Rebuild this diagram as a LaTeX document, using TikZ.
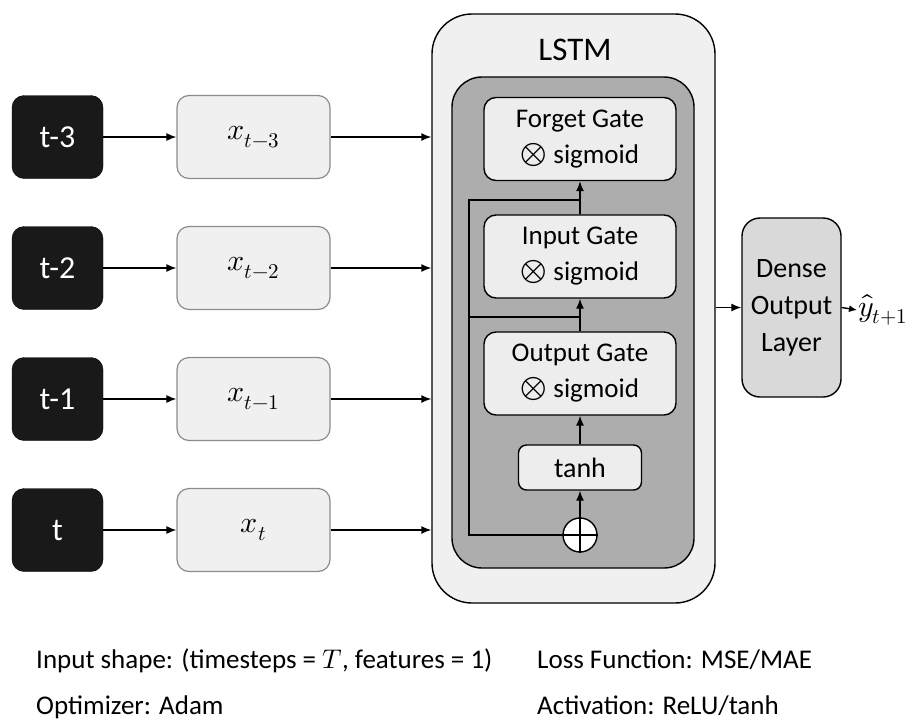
\documentclass[tikz,border=0pt]{standalone}
\usepackage{fontspec}
\usepackage{unicode-math}
\setmainfont{Carlito}
\setmathfont{Latin Modern Math}
\usetikzlibrary{positioning,calc,arrows.meta}
\newcommand{\gateop}{{\fontsize{34}{34}\selectfont$\otimes$}}

\begin{document}
\begin{tikzpicture}[x=1pt,y=-1pt,
    >={Latex[length=10pt,width=8pt]},
    conn/.style={->,line width=1.4pt},
    tbox/.style={draw=black,fill=black!90,text=white,rounded corners=12pt,minimum width=91pt,minimum height=83pt,font=\fontsize{32}{36}\selectfont},
    xbox/.style={draw=black!45,line width=1.2pt,fill=black!6,rounded corners=12pt,minimum width=153pt,minimum height=83pt,font=\fontsize{30}{34}\selectfont},
    gate/.style={draw,line width=1.4pt,fill=black!7,rounded corners=12pt,minimum width=192pt,minimum height=83pt,align=center,font=\fontsize{27}{36}\selectfont},
    note/.style={anchor=base west,inner sep=0pt,font=\fontsize{27}{32}\selectfont}]
    \useasboundingbox (0,0) rectangle (923,726);
    % LSTM block
    \node[draw,line width=1.4pt,fill=black!6,rounded corners=40pt,minimum width=283pt,minimum height=589pt] (lstm) at (573.5,308.5) {};
    \node[font=\fontsize{33}{36}\selectfont] (lstmtitle) at (575,50) {LSTM};
    \node[draw,line width=1.4pt,fill=black!32,rounded corners=30pt,minimum width=242pt,minimum height=491pt] (cell) at (573,322.5) {};
    \node[gate] (forget) at (580,139) {Forget Gate\\\gateop{} sigmoid};
    \node[gate] (input) at (580,256.5) {Input Gate\\\gateop{} sigmoid};
    \node[gate] (output) at (580,373.5) {Output Gate\\\gateop{} sigmoid};
    \node[gate,minimum width=123pt,minimum height=45pt,rounded corners=8pt,font=\fontsize{28}{32}\selectfont] (tanh) at (580,467.5) {tanh};
    \node[circle,draw,line width=1.4pt,fill=white,minimum size=34pt,inner sep=0pt] (add) at (580,535) {};
    \draw[line width=1.4pt] (add.north) -- (add.south) (add.west) -- (add.east);
    \coordinate (fb) at (469,535);
    \draw[line width=1.6pt] (add.west) -- (fb) -- (fb |- 0,200) -- (580,200);
    \draw[line width=1.6pt] (fb |- 0,317) -- (580,317);
    \draw[conn] (add.north) -- (tanh.south);
    \draw[conn] (tanh.north) -- (output.south);
    \draw[conn] (output.north) -- (input.south);
    \draw[conn] (input.north) -- (forget.south);
    % inputs
    \foreach \i/\t/\x/\y in {3/t-3/{x_{t-3}}/137, 2/t-2/{x_{t-2}}/268, 1/t-1/{x_{t-1}}/399, 0/t/{x_{t}}/530} {
        \node[tbox] (step\i) at (57.5,\y) {\t};
        \node[xbox] (x\i) at (253.5,\y) {$\x$};
        \draw[conn] (step\i) -- (x\i);
        \draw[conn] (x\i.east) -- (x\i.east -| lstm.west);
    }
    % output
    \node[draw,line width=1.4pt,fill=black!15,rounded corners=18pt,minimum width=99pt,minimum height=179pt,align=center,font=\fontsize{28}{37}\selectfont] (dense) at (791.5,307.5) {Dense\\Output\\Layer};
    \draw[conn] (lstm.east |- dense) -- (dense.west);
    \node[font=\fontsize{30}{34}\selectfont,inner sep=1pt,anchor=west] (yhat) at (857,310) {$\hat{y}_{t+1}$};
    \draw[->,line width=1.4pt,>={Latex[length=8pt,width=7pt]}] (dense.east) -- (yhat.west);
    % settings
    \node[note] (shape) at (36,668) {Input shape: (timesteps = $T$, features = 1)};
    \node[note] (opt) at (36,714) {Optimizer: Adam};
    \node[note] (loss) at (537,668) {Loss Function: MSE/MAE};
    \node[note] (act) at (537,714) {Activation: ReLU/tanh};
\end{tikzpicture}
\end{document}
